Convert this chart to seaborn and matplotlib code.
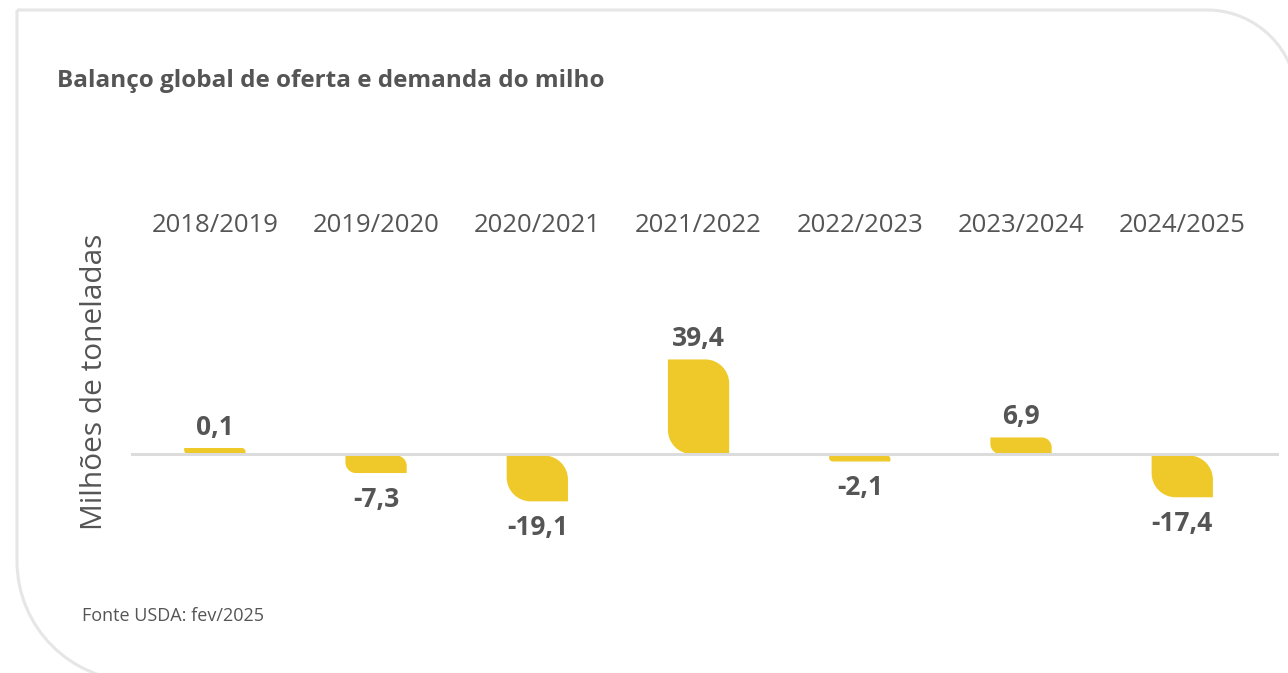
import numpy as np
import pandas as pd
import seaborn as sns
import matplotlib.pyplot as plt
from matplotlib.path import Path
from matplotlib.patches import PathPatch

seasons = ["2018/2019", "2019/2020", "2020/2021", "2021/2022", "2022/2023", "2023/2024", "2024/2025"]
balance = [0.1, -7.3, -19.1, 39.4, -2.1, 6.9, -17.4]
labels = ["0,1", "-7,3", "-19,1", "39,4", "-2,1", "6,9", "-17,4"]

title = "Balanço global de oferta e demanda do milho"
ylabel = "Milhões de toneladas"
source = "Fonte USDA: fev/2025"

YELLOW = "#EFC929"
TEXT = "#555555"
W, H = 1288, 673

sns.set_theme(style="white")
plt.rcParams["font.family"] = ["Open Sans", "DejaVu Sans"]

fig = plt.figure(figsize=(W / 100, H / 100), dpi=100)

# card background in pixel coords
bg = fig.add_axes([0, 0, 1, 1])
bg.set_xlim(0, W)
bg.set_ylim(H, 0)
bg.axis("off")
k = 0.5523
L, T, R, B = 17, 10, 1297, 681
r1, r2 = 90, 120
verts = [(L, T), (R - r1, T),
         (R - r1 + k * r1, T), (R, T + r1 - k * r1), (R, T + r1),
         (R, B), (L + r2, B),
         (L + r2 - k * r2, B), (L, B - r2 + k * r2), (L, B - r2),
         (L, T)]
codes = [Path.MOVETO, Path.LINETO, Path.CURVE4, Path.CURVE4, Path.CURVE4,
         Path.LINETO, Path.LINETO, Path.CURVE4, Path.CURVE4, Path.CURVE4, Path.LINETO]
bg.add_patch(PathPatch(Path(verts, codes), facecolor="white", edgecolor="#e6e6e6", lw=2.2))

# chart axes
px_x = 161.2
px_y = 2.4
zero_px = 454
top_px, bot_px = 238, 560
left_px = 131
right_px = 1279
ax = fig.add_axes([left_px / W, 1 - bot_px / H, (right_px - left_px) / W, (bot_px - top_px) / H])
ax.patch.set_alpha(0)

df = pd.DataFrame({"season": seasons, "value": balance})
sns.barplot(data=df, x="season", y="value", color=YELLOW, width=0.38, ax=ax, saturation=1)

ax.set_xlim(-0.52, 6.6)
ax.set_ylim(-(bot_px - zero_px) / px_y, (zero_px - top_px) / px_y)
ax.axhline(0, color="#dcdcdc", lw=2.2, zorder=5)

for p in list(ax.patches):
    x0 = p.get_x()
    x1 = x0 + p.get_width()
    h = p.get_height()
    hpx = max(abs(h) * px_y, 6)
    if h < 0:
        y1 = -1.5 / px_y
        y0 = y1 - hpx / px_y
    else:
        y0 = 0
        y1 = hpx / px_y
    rp = min(0.6 * hpx, 24)
    rx, ry = rp / px_x, rp / px_y
    cx, cy = x1 - rx, y1 - ry
    dx, dy = x0 + rx, y0 + ry
    v = [(x0, y1), (cx, y1),
         (cx + k * rx, y1), (x1, cy + k * ry), (x1, cy),
         (x1, y0), (dx, y0),
         (dx - k * rx, y0), (x0, dy - k * ry), (x0, dy),
         (x0, y1)]
    p.remove()
    ax.add_patch(PathPatch(Path(v, codes), facecolor=YELLOW, edgecolor="none", zorder=3))

for i, (val, lab) in enumerate(zip(balance, labels)):
    hpx = max(abs(val) * px_y, 6)
    if val >= 0:
        ax.annotate(lab, (i, hpx / px_y), xytext=(0, 13 * 0.72), textcoords="offset points",
                    ha="center", va="baseline", fontsize=19, fontweight="bold", color=TEXT)
    else:
        ax.annotate(lab, (i, -hpx / px_y), xytext=(0, -14 * 0.72), textcoords="offset points",
                    ha="center", va="top", fontsize=19, fontweight="bold", color=TEXT)

ax.xaxis.tick_top()
ax.tick_params(axis="x", length=0, pad=0, labelsize=18.5, labelcolor=TEXT)
ax.set_xlabel("")
ax.set_yticks([])
ax.set_ylabel(ylabel, fontsize=21.5, color=TEXT)
ax.yaxis.set_label_coords((95 - left_px) / (right_px - left_px), (bot_px - 382) / (bot_px - top_px))
ax.yaxis.label.set_verticalalignment("center")
sns.despine(ax=ax, left=True, bottom=True)

fig.text(57 / W, 1 - 81 / H, title, fontsize=17.5, fontweight="bold", color=TEXT, va="center")
fig.text(82 / W, 1 - 616 / H, source, fontsize=13, color=TEXT, va="center")

fig.savefig("out.png", dpi=100)
